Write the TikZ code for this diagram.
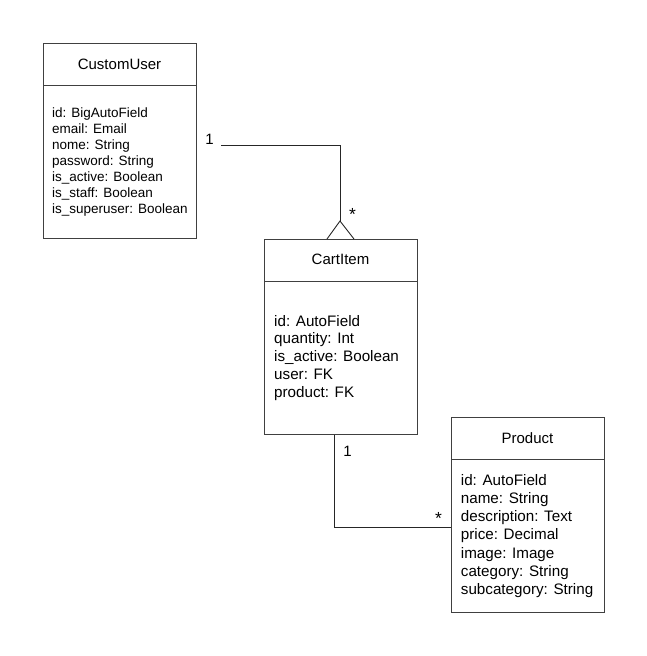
\documentclass[tikz,border=0pt]{standalone}
\usepackage{fontspec}
\setmainfont{Liberation Sans}
\usetikzlibrary{positioning}

\begin{document}
\begin{tikzpicture}[x=1pt,y=-1pt,
  umlbox/.style={draw=black!75,line width=0.9pt,minimum width=153pt,minimum height=195pt,anchor=north west,inner sep=0pt},
  umltitle/.style={font=\fontsize{15}{18}\selectfont,anchor=base,inner sep=0pt},
  smallattr/.style={font=\fontsize{13.5}{16}\selectfont,anchor=base west,inner sep=0pt},
  bigattr/.style={font=\fontsize{15.2}{18}\selectfont,anchor=base west,inner sep=0pt},
  mult/.style={font=\fontsize{15}{18}\selectfont,anchor=base,inner sep=0pt},
  many/.style={font=\fontsize{17.5}{20}\selectfont,anchor=base,inner sep=0pt},
  link/.style={draw=black!85,line width=0.9pt},
]
\useasboundingbox (0,0) rectangle (647,656);
% classes
\node[umlbox] (user) at (43,43) {};
\node[umlbox] (cart) at (264,239) {};
\node[umlbox] (product) at (451,417) {};
\foreach \b in {user,cart,product}
  \draw[draw=black!75,line width=0.9pt] ([yshift=-42pt]\b.north west) -- ([yshift=-42pt]\b.north east);
\node[umltitle] (user-title) at (119.5,69.3) {CustomUser};
\node[umltitle] (cart-title) at (340.5,264.3) {CartItem};
\node[umltitle] (product-title) at (527.5,443.3) {Product};
% attributes
\foreach \t [count=\i from 0] in {id: BigAutoField,email: Email,nome: String,password: String,is\_active: Boolean,is\_staff: Boolean,is\_superuser: Boolean}
  \node[smallattr] (user-a\i) at (52,117.3+16.1*\i) {\t};
\foreach \t [count=\i from 0] in {id: AutoField,quantity: Int,is\_active: Boolean,user: FK,product: FK}
  \node[bigattr] (cart-a\i) at (274,326+17.9*\i) {\t};
\foreach \t [count=\i from 0] in {id: AutoField,name: String,description: Text,price: Decimal,image: Image,category: String,subcategory: String}
  \node[bigattr] (product-a\i) at (460.7,485+18.3*\i) {\t};
% user -- cart
\coordinate (user-end) at (221,145);
\coordinate (cart-tip) at (340,221);
\draw[link] (user-end) -| (cart-tip);
\draw[link] (cart.north -| 327,0) -- (cart-tip) -- (cart.north -| 354,0);
\node[mult] (user-one) at (209.5,144) {1};
\node[many] (cart-many) at (352.5,220) {*};
% cart -- product
\coordinate (cart-foot) at (cart.south -| 334,0);
\coordinate (product-in) at (product.west |- 0,527);
\draw[link] (cart-foot) |- (product-in);
\node[mult] (cart-one) at (347.5,456) {1};
\node[many] (product-many) at (438.5,524.5) {*};
\end{tikzpicture}
\end{document}
